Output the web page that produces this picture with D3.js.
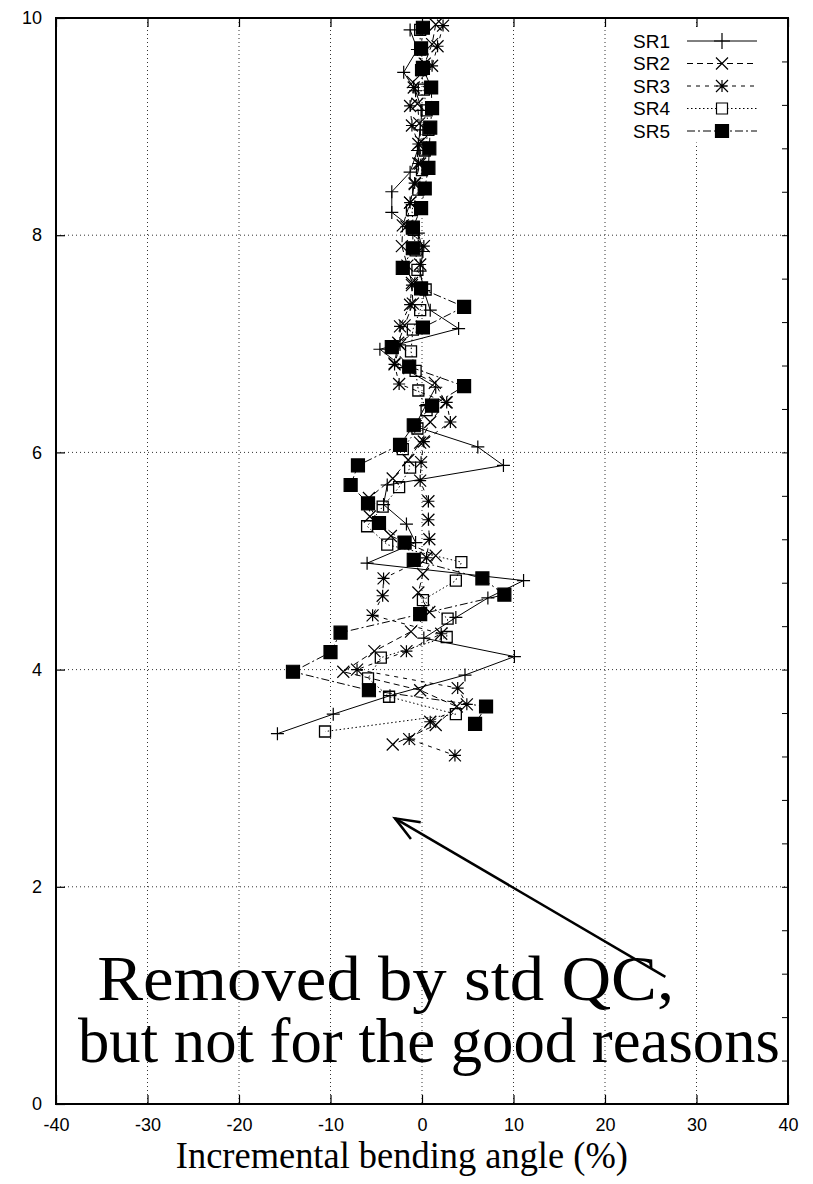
<!DOCTYPE html>
<html>
<head>
<meta charset="utf-8">
<script src="https://cdn.jsdelivr.net/npm/d3@7"></script>
<style>
  html, body { margin: 0; padding: 0; background: #fff; }
  svg { display: block; }
</style>
</head>
<body>
<svg id="chart" width="813" height="1184"></svg>
<script>
// ---------------- DATA ----------------
const seriesNames = ["SR1", "SR2", "SR3", "SR4", "SR5"];

// altitude (y) and incremental bending angle (%) (x)
const sr1Alt = [9.89, 9.71, 9.50, 9.33, 9.15, 8.97, 8.78, 8.58, 8.40, 8.21, 8.02, 7.85, 7.67, 7.49, 7.31, 7.14, 6.95, 6.78, 6.60, 6.43, 6.24, 6.05, 5.88, 5.70, 5.52, 5.34, 5.17, 4.98, 4.82, 4.66, 4.48, 4.29, 4.12, 3.95, 3.76, 3.59, 3.41];
const sr1Val = [-1.3, -0.5, -2.0, -0.7, 0.0, -0.2, -0.5, -1.3, -3.3, -3.3, -0.4, 0.1, -0.2, 0.2, 0.9, 4.0, -4.6, -2.0, 1.5, 0.4, -0.8, 6.1, 8.9, -3.8, -4.2, -1.7, -0.7, -6.0, 11.1, 7.2, 3.7, 0.2, 10.1, 4.7, -3.5, -9.7, -15.8];

const sr2Alt = [9.94, 9.76, 9.58, 9.41, 9.21, 9.03, 8.86, 8.66, 8.47, 8.30, 8.09, 7.90, 7.72, 7.56, 7.37, 7.17, 7.01, 6.82, 6.64, 6.46, 6.28, 6.09, 5.93, 5.76, 5.58, 5.41, 5.23, 5.05, 4.88, 4.71, 4.53, 4.35, 4.17, 3.98, 3.81, 3.66, 3.49, 3.31];
const sr2Val = [1.5, 1.1, 0.3, -1.0, -0.5, -0.3, -0.1, -0.2, -0.8, -1.3, -2.1, -2.2, -1.6, -1.1, -1.0, -1.9, -2.6, -3.0, 1.4, 2.6, 0.9, -0.2, -1.5, -3.2, -5.8, -5.7, -3.4, 1.5, 0.1, -0.4, 0.8, -1.2, -5.2, -8.6, -0.2, 3.8, 1.5, -3.2];

const sr3Alt = [9.93, 9.74, 9.56, 9.36, 9.19, 9.01, 8.84, 8.66, 8.48, 8.30, 8.08, 7.90, 7.73, 7.54, 7.36, 7.16, 6.99, 6.81, 6.63, 6.46, 6.28, 6.10, 5.91, 5.74, 5.55, 5.38, 5.20, 5.03, 4.84, 4.68, 4.50, 4.33, 4.17, 4.00, 3.83, 3.68, 3.52, 3.36, 3.21];
const sr3Val = [2.3, 1.7, 1.1, -0.9, -1.3, -1.1, -0.4, -0.4, -0.8, -1.3, -1.7, 0.2, -0.2, -1.1, -1.3, -2.4, -2.4, -3.0, -2.5, 2.7, 3.1, 0.2, -0.1, -0.2, 0.7, 0.7, 0.8, 0.5, -4.2, -4.3, -5.4, 2.1, -1.7, -7.1, 3.9, 4.9, 0.9, -1.4, 3.6];

const sr4Alt = [9.89, 9.71, 9.52, 9.34, 9.15, 8.97, 8.78, 8.60, 8.42, 8.23, 8.05, 7.86, 7.68, 7.50, 7.31, 7.13, 6.93, 6.75, 6.57, 6.39, 6.22, 6.03, 5.86, 5.68, 5.50, 5.32, 5.15, 4.99, 4.82, 4.64, 4.47, 4.30, 4.11, 3.92, 3.75, 3.59, 3.43];
const sr4Val = [-0.2, -0.2, -0.1, 0.2, 0.5, 0.7, 0.3, 0.0, -0.4, -1.1, -0.9, -0.7, -0.5, 0.4, -0.2, -1.0, -1.2, -0.7, -0.4, 0.5, -0.5, -2.1, -1.3, -2.5, -4.3, -6.0, -3.8, 4.3, 3.7, 0.1, 2.8, 2.7, -4.5, -5.9, -3.6, 3.7, -10.6];

const sr5Alt = [9.91, 9.72, 9.54, 9.36, 9.17, 8.99, 8.80, 8.62, 8.43, 8.25, 8.07, 7.88, 7.70, 7.51, 7.34, 7.15, 6.97, 6.79, 6.61, 6.43, 6.25, 6.07, 5.88, 5.70, 5.53, 5.35, 5.17, 5.01, 4.84, 4.69, 4.51, 4.34, 4.16, 3.98, 3.81, 3.66, 3.50];
const sr5Val = [0.1, -0.1, 0.1, 1.0, 1.1, 0.9, 0.8, 0.7, 0.3, -0.1, -1.0, -1.0, -2.1, -0.1, 4.6, 0.1, -3.3, -1.4, 4.6, 1.1, -0.9, -2.4, -7.0, -7.8, -5.9, -4.7, -1.9, -0.9, 6.6, 9.0, -0.2, -8.9, -10.0, -14.1, -5.8, 7.0, 5.8];

const xTickValues = [-40, -30, -20, -10, 0, 10, 20, 30, 40];
const yTickValues = [0, 2, 4, 6, 8, 10];
const y2TickValues = d3.range(0, 26).map(k => 10 - 0.4 * k);
const xTitle = "Incremental bending angle (%)";
const noteLines = ["Removed by std QC,", "but not for the good reasons"];

// ---------------- LAYOUT ----------------
const svg = d3.select("#chart");
const M = { left: 56, right: 788, top: 18, bottom: 1104 };
const x = d3.scaleLinear().domain([-40, 40]).range([M.left, M.right]);
const y = d3.scaleLinear().domain([0, 10]).range([M.bottom, M.top]);

const sansFont = "'Liberation Sans', Arial, Helvetica, sans-serif";
const serifFont = "'Liberation Serif', 'Times New Roman', serif";
const fmt = d => String(d);

// grid
const grid = svg.append("g").attr("stroke", "#333").attr("stroke-width", 1).attr("stroke-dasharray", "1,3");
xTickValues.filter(v => v > -40 && v < 40).forEach(v => {
  grid.append("line").attr("x1", x(v)).attr("x2", x(v)).attr("y1", M.top).attr("y2", M.bottom);
});
yTickValues.filter(v => v > 0 && v < 10).forEach(v => {
  grid.append("line").attr("x1", M.left).attr("x2", M.right).attr("y1", y(v)).attr("y2", y(v));
});

// axes (ticks inward)
const axB = svg.append("g").attr("transform", `translate(0,${M.bottom})`)
  .call(d3.axisBottom(x).tickValues(xTickValues).tickSizeInner(-9).tickSizeOuter(0).tickPadding(14).tickFormat(fmt));
const axT = svg.append("g").attr("transform", `translate(0,${M.top})`)
  .call(d3.axisTop(x).tickValues(xTickValues).tickSizeInner(-9).tickSizeOuter(0).tickFormat(""));
const axL = svg.append("g").attr("transform", `translate(${M.left},0)`)
  .call(d3.axisLeft(y).tickValues(yTickValues).tickSizeInner(-9).tickSizeOuter(0).tickPadding(14).tickFormat(fmt));
const axR = svg.append("g").attr("transform", `translate(${M.right},0)`)
  .call(d3.axisRight(y).tickValues(y2TickValues).tickSizeInner(-6).tickSizeOuter(0).tickFormat(""));
[axB, axT, axL].forEach(a => {
  a.select(".domain").remove();
  a.selectAll("line").attr("stroke", "#000").attr("stroke-width", 1.2);
  a.selectAll("text").attr("font-family", sansFont).attr("font-size", 18).attr("fill", "#000");
});
axR.select(".domain").remove();
axR.selectAll("line").attr("stroke", "#000").attr("stroke-width", 1);

// frame
svg.append("rect").attr("x", M.left).attr("y", M.top)
  .attr("width", M.right - M.left).attr("height", M.bottom - M.top)
  .attr("fill", "none").attr("stroke", "#000").attr("stroke-width", 2);

// ---------------- SERIES ----------------
function markerPath(type, s) {
  const h = s / 2;
  if (type === "plus") return `M${-h},0H${h}M0,${-h}V${h}`;
  if (type === "times") return `M${-h},${-h}L${h},${h}M${-h},${h}L${h},${-h}`;
  if (type === "asterisk") return `M${-h},0H${h}M0,${-h}V${h}M${-h},${-h}L${h},${h}M${-h},${h}L${h},${-h}`;
  return `M${-h},${-h}H${h}V${h}H${-h}Z`;
}
const seriesData = [
  { name: "SR1", alt: sr1Alt, val: sr1Val, dash: null,      marker: "plus",     size: 13, fill: "none" },
  { name: "SR2", alt: sr2Alt, val: sr2Val, dash: "6,4",     marker: "times",    size: 12, fill: "none" },
  { name: "SR3", alt: sr3Alt, val: sr3Val, dash: "4,5",     marker: "asterisk", size: 12, fill: "none" },
  { name: "SR4", alt: sr4Alt, val: sr4Val, dash: "1.5,2.5", marker: "square",   size: 11, fill: "none" },
  { name: "SR5", alt: sr5Alt, val: sr5Val, dash: "8,3,2,3", marker: "square",   size: 13, fill: "#000" }
];

const line = d3.line().x(d => x(d[1])).y(d => y(d[0]));
const plot = svg.append("g");
seriesData.forEach(s => {
  const pts = s.alt.map((a, i) => [a, s.val[i]]);
  const g = plot.append("g");
  g.append("path").datum(pts).attr("d", line)
    .attr("fill", "none").attr("stroke", "#000").attr("stroke-width", 1)
    .attr("stroke-dasharray", s.dash);
  g.selectAll("path.m").data(pts).join("path").attr("class", "m")
    .attr("transform", d => `translate(${x(d[1])},${y(d[0])})`)
    .attr("d", markerPath(s.marker, s.size))
    .attr("fill", s.fill === "none" ? "none" : s.fill)
    .attr("stroke", "#000").attr("stroke-width", s.marker === "square" && s.fill === "none" ? 1.3 : 1.2);
});

// ---------------- LEGEND ----------------
const legend = svg.append("g");
seriesData.forEach((s, i) => {
  const cy = 41 + i * 22.5;
  legend.append("rect").attr("x", 614).attr("y", cy - 11).attr("width", 160).attr("height", 22.5).attr("fill", "#fff");
});
seriesData.forEach((s, i) => {
  const cy = 41 + i * 22.5;
  legend.append("text").attr("x", 670).attr("y", cy).attr("dy", "0.36em")
    .attr("text-anchor", "end").attr("font-family", sansFont).attr("font-size", 19).text(s.name);
  legend.append("line").attr("x1", 687).attr("x2", 757).attr("y1", cy).attr("y2", cy)
    .attr("stroke", "#000").attr("stroke-width", 1).attr("stroke-dasharray", s.dash);
  legend.append("path").attr("transform", `translate(722,${cy})`)
    .attr("d", markerPath(s.marker, s.marker === "plus" ? 16 : s.size))
    .attr("fill", s.fill === "none" ? (s.marker === "square" ? "#fff" : "none") : s.fill)
    .attr("stroke", "#000").attr("stroke-width", 1.2);
});

// ---------------- TITLES / ANNOTATION ----------------
svg.append("text").attr("x", x(-2.2)).attr("y", 1168).attr("text-anchor", "middle")
  .attr("font-family", serifFont).attr("font-size", 37)
  .attr("textLength", 452).attr("lengthAdjust", "spacingAndGlyphs").text(xTitle);

svg.append("text").attr("x", x(-35.5)).attr("y", y(0.96))
  .attr("font-family", serifFont).attr("font-size", 63)
  .attr("textLength", 577).attr("lengthAdjust", "spacingAndGlyphs").text(noteLines[0]);
svg.append("text").attr("x", x(-37.6)).attr("y", y(0.39))
  .attr("font-family", serifFont).attr("font-size", 63)
  .attr("textLength", 702).attr("lengthAdjust", "spacingAndGlyphs").text(noteLines[1]);

// arrow
const ax0 = x(26.6), ay0 = y(1.17), ax1 = x(-2.95), ay1 = y(2.63);
svg.append("line").attr("x1", ax0).attr("y1", ay0).attr("x2", ax1).attr("y2", ay1)
  .attr("stroke", "#000").attr("stroke-width", 2.5);
const ang = Math.atan2(ay1 - ay0, ax1 - ax0);
const hl = 26, ha = 0.38;
svg.append("path")
  .attr("d", `M${ax1 - hl * Math.cos(ang - ha)},${ay1 - hl * Math.sin(ang - ha)}L${ax1},${ay1}L${ax1 - hl * Math.cos(ang + ha)},${ay1 - hl * Math.sin(ang + ha)}`)
  .attr("fill", "none").attr("stroke", "#000").attr("stroke-width", 2.5);
</script>
</body>
</html>
